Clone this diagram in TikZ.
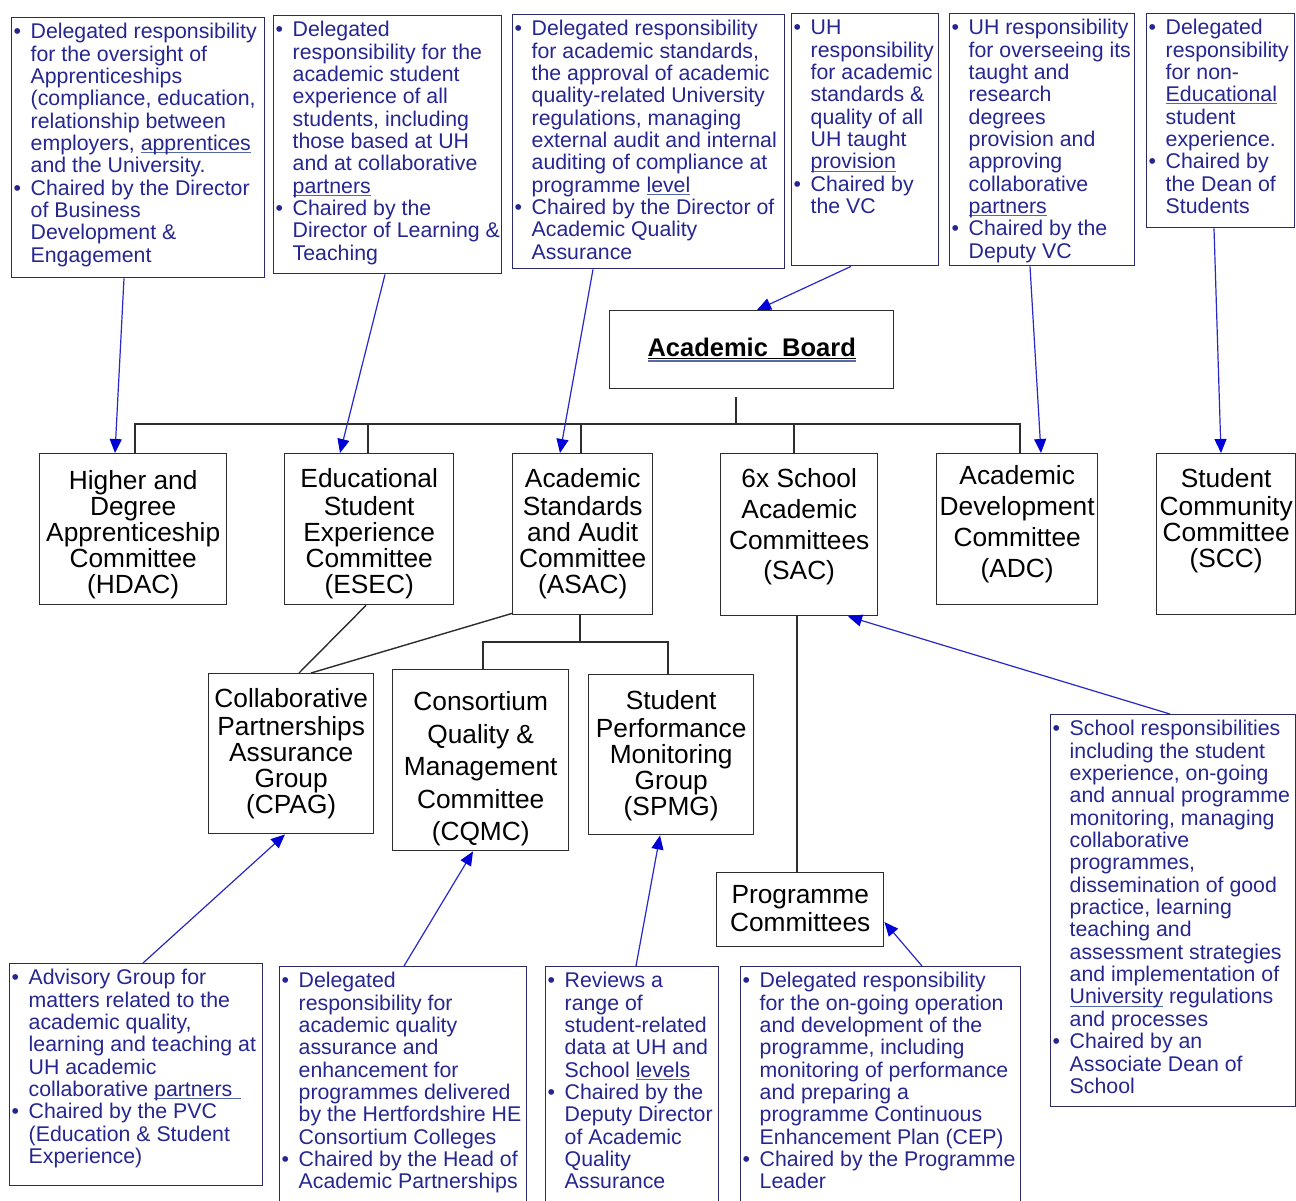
\documentclass[tikz,border=0pt]{standalone}
\usepackage{fontspec}
\setmainfont{Liberation Sans}
\usetikzlibrary{arrows.meta}
\definecolor{dtext}{RGB}{38,38,145}
\definecolor{dborder}{RGB}{42,42,105}
\definecolor{arrc}{RGB}{40,40,200}
\definecolor{arrh}{RGB}{0,0,215}
\definecolor{tline}{RGB}{45,45,45}
\definecolor{ulc}{RGB}{85,105,165}
\newlength\ulw
\newcommand{\uln}[1]{\settowidth{\ulw}{#1}\rlap{\textcolor{ulc}{\rule[-2.6pt]{\ulw}{0.9pt}}}#1}
\newcommand{\abul}[1]{\settowidth{\ulw}{#1}\rlap{\rule[-2.6pt]{\ulw}{1.2pt}}\rlap{\textcolor{ulc}{\rule[-5.2pt]{\ulw}{1.2pt}}}#1}
\newcommand{\bl}{\makebox[17pt][l]{\textbullet}}
\newcommand{\ii}{\hspace*{17pt}}
\newcommand{\dtxt}[3]{\parbox[c][#2][t]{#1}{\raggedright\leftskip=2pt\fontsize{21.3}{22.35}\selectfont\vspace*{5.4pt}\strut #3}}
\newcommand{\ctxt}[5]{\parbox[c][#2][t]{#1}{\centering\fontsize{26.3}{#4}\selectfont\vspace*{#3}\strut #5}}
\begin{document}
\begin{tikzpicture}[x=1pt,y=-1pt,
  dbox/.style={draw=dborder, line width=1.4pt, inner sep=0pt, anchor=north west, text=dtext},
  cbox/.style={draw=tline, line width=1.4pt, inner sep=0pt, anchor=north west, text=black},
  tree/.style={draw=tline, line width=1.4pt},
  arr/.style={draw=arrc, line width=1.2pt, -{Triangle[length=14pt,width=12pt,fill=arrh,color=arrh]}}]
\useasboundingbox (0,0) rectangle (1296,1200);
\clip (0,0) rectangle (1296,1200);
\fill[white] (0,0) rectangle (1296,1200);

% ---------- top description boxes ----------
\node[dbox] (d1) at (11,17) {\dtxt{253pt}{260pt}{%
\bl Delegated responsibility\\
\ii for the oversight of\\
\ii Apprenticeships\\
\ii (compliance, education,\\
\ii relationship between\\
\ii employers, \uln{apprentices}\\
\ii and the University.\\
\bl Chaired by the Director\\
\ii of Business\\
\ii Development \&\\
\ii Engagement}};

\node[dbox] (d2) at (273,15) {\dtxt{228pt}{258pt}{%
\bl Delegated\\
\ii responsibility for the\\
\ii academic student\\
\ii experience of all\\
\ii students, including\\
\ii those based at UH\\
\ii and at collaborative\\
\ii \uln{partners}\\
\bl Chaired by the\\
\ii Director of Learning \&\\
\ii Teaching}};

\node[dbox] (d3) at (512,14) {\dtxt{272pt}{254pt}{%
\bl Delegated responsibility\\
\ii for academic standards,\\
\ii the approval of academic\\
\ii quality-related University\\
\ii regulations, managing\\
\ii external audit and internal\\
\ii auditing of compliance at\\
\ii programme \uln{level}\\
\bl Chaired by the Director of\\
\ii Academic Quality\\
\ii Assurance}};

\node[dbox] (d4) at (791,13) {\dtxt{147pt}{252pt}{%
\bl UH\\
\ii responsibility\\
\ii for academic\\
\ii standards \&\\
\ii quality of all\\
\ii UH taught\\
\ii \uln{provision}\\
\bl Chaired by\\
\ii the VC}};

\node[dbox] (d5) at (949,13) {\dtxt{185pt}{252pt}{%
\bl UH responsibility\\
\ii for overseeing its\\
\ii taught and\\
\ii research\\
\ii degrees\\
\ii provision and\\
\ii approving\\
\ii collaborative\\
\ii \uln{partners}\\
\bl Chaired by the\\
\ii Deputy VC}};

\node[dbox] (d6) at (1146,13) {\dtxt{148pt}{214pt}{%
\bl Delegated\\
\ii responsibility\\
\ii for non-\\
\ii \uln{Educational}\\
\ii student\\
\ii experience.\\
\bl Chaired by\\
\ii the Dean of\\
\ii Students}};

% ---------- Academic Board ----------
\node[cbox, minimum width=284pt, minimum height=78pt] (ab) at (609,310)
  {\fontsize{25.5}{26}\selectfont\bfseries\abul{Academic\ \ Board}};

% ---------- committees ----------
\node[cbox] (hdac) at (39,453) {\ctxt{187pt}{151pt}{16.8pt}{26pt}{Higher and\\Degree\\Apprenticeship\\Committee\\(HDAC)}};
\node[cbox] (esec) at (284,453) {\ctxt{169pt}{151pt}{14.8pt}{26pt}{Educational\\Student\\Experience\\Committee\\(ESEC)}};
\node[cbox] (asac) at (512,453) {\ctxt{140pt}{161pt}{14.8pt}{26pt}{Academic\\Standards\\and Audit\\Committee\\(ASAC)}};
\node[cbox] (sac) at (720,453) {\ctxt{157pt}{162pt}{12.5pt}{30.7pt}{6x School\\Academic\\Committees\\(SAC)}};
\node[cbox] (adc) at (936,453) {\ctxt{161pt}{151pt}{9.3pt}{31pt}{Academic\\Development\\Committee\\(ADC)}};
\node[cbox] (scc) at (1156,453) {\ctxt{139pt}{161pt}{14.8pt}{26pt}{Student\\Community\\Committee\\(SCC)}};

\node[cbox] (cpag) at (208,673) {\ctxt{165pt}{160pt}{14.8pt}{26pt}{Collaborative\\Partnerships\\Assurance\\Group\\(CPAG)}};
\node[cbox] (cqmc) at (392,669) {\ctxt{176pt}{181pt}{18.2pt}{32.5pt}{Consortium\\Quality \&\\Management\\Committee\\(CQMC)}};
\node[cbox] (spmg) at (588,674) {\ctxt{165pt}{160pt}{15.8pt}{26pt}{Student\\Performance\\Monitoring\\Group\\(SPMG)}};
\node[cbox] (prog) at (716,872) {\ctxt{167pt}{74pt}{12.8pt}{26pt}{Programme\\Committees}};

% ---------- bottom description boxes ----------
\node[dbox] (b1) at (9,963) {\dtxt{253pt}{222pt}{%
\bl Advisory Group for\\
\ii matters related to the\\
\ii academic quality,\\
\ii learning and teaching at\\
\ii UH academic\\
\ii collaborative \uln{partners\hspace{9pt}}\\
\bl Chaired by the PVC\\
\ii (Education \& Student\\
\ii Experience)}};

\node[dbox] (b2) at (279,966) {\dtxt{247pt}{240pt}{%
\bl Delegated\\
\ii responsibility for\\
\ii academic quality\\
\ii assurance and\\
\ii enhancement for\\
\ii programmes delivered\\
\ii by the Hertfordshire HE\\
\ii Consortium Colleges\\
\bl Chaired by the Head of\\
\ii Academic Partnerships}};

\node[dbox] (b3) at (545,966) {\dtxt{173pt}{240pt}{%
\bl Reviews a\\
\ii range of\\
\ii student-related\\
\ii data at UH and\\
\ii School \uln{levels}\\
\bl Chaired by the\\
\ii Deputy Director\\
\ii of Academic\\
\ii Quality\\
\ii Assurance}};

\node[dbox] (b4) at (740,966) {\dtxt{280pt}{240pt}{%
\bl Delegated responsibility\\
\ii for the on-going operation\\
\ii and development of the\\
\ii programme, including\\
\ii monitoring of performance\\
\ii and preparing a\\
\ii programme Continuous\\
\ii Enhancement Plan (CEP)\\
\bl Chaired by the Programme\\
\ii Leader}};

\node[dbox] (rs) at (1050,714) {\dtxt{245pt}{392pt}{%
\bl School responsibilities\\
\ii including the student\\
\ii experience, on-going\\
\ii and annual programme\\
\ii monitoring, managing\\
\ii collaborative\\
\ii programmes,\\
\ii dissemination of good\\
\ii practice, learning\\
\ii teaching and\\
\ii assessment strategies\\
\ii and implementation of\\
\ii \uln{University} regulations\\
\ii and processes\\
\bl Chaired by an\\
\ii Associate Dean of\\
\ii School}};

% ---------- tree connectors ----------
\coordinate (bus) at (736,424);
\coordinate (hT) at ([xshift=96pt]hdac.north west);
\coordinate (eT) at ([xshift=84pt]esec.north west);
\coordinate (aT) at ([xshift=69pt]asac.north west);
\coordinate (sT) at ([xshift=74pt]sac.north west);
\coordinate (dT) at ([xshift=84pt]adc.north west);
\draw[tree] ([xshift=127pt,yshift=-8pt]ab.south west) -- (bus);
\draw[tree] (hT) |- (dT |- bus) -- (dT);
\draw[tree] (eT) -- (eT |- bus);
\draw[tree] (aT) -- (aT |- bus);
\draw[tree] (sT) -- (sT |- bus);

\coordinate (bus2) at (580,642);
\coordinate (aB) at ([xshift=68pt]asac.south west);
\coordinate (cT) at ([xshift=91pt]cqmc.north west);
\coordinate (pT) at ([xshift=80pt]spmg.north west);
\draw[tree] (aB) -- (aB |- bus2);
\draw[tree] (cT) |- (pT |- bus2) -- (pT);
\draw[tree] ([xshift=82pt]esec.south west) -- ([xshift=91pt]cpag.north west);
\draw[tree] ([yshift=2pt]asac.south west) -- ([xshift=103pt]cpag.north west);
\draw[tree] ([xshift=77pt]sac.south west) -- ([xshift=81pt]prog.north west);

% ---------- arrows ----------
\draw[arr] ([xshift=113pt]d1.south west) -- ([xshift=76pt]hdac.north west);
\draw[arr] ([xshift=112pt]d2.south west) -- ([xshift=56pt]esec.north west);
\draw[arr] ([xshift=81pt]d3.south west) -- ([xshift=48pt]asac.north west);
\draw[arr] ([xshift=60pt]d4.south west) -- ([xshift=148pt]ab.north west);
\draw[arr] ([xshift=81pt]d5.south west) -- ([xshift=105pt]adc.north west);
\draw[arr] ([xshift=68pt]d6.south west) -- ([xshift=65pt]scc.north west);

\draw[arr] ([xshift=134pt]b1.north west) -- ([xshift=77pt]cpag.south west);
\draw[arr] ([xshift=125pt]b2.north west) -- ([xshift=81pt]cqmc.south west);
\draw[arr] ([xshift=91pt]b3.north west) -- ([xshift=72pt]spmg.south west);
\draw[arr] ([xshift=182pt]b4.north west) -- ([yshift=-50pt]prog.north east);
\draw[arr] ([xshift=120pt]rs.north west) -- ([xshift=128pt]sac.south west);
\end{tikzpicture}
\end{document}
